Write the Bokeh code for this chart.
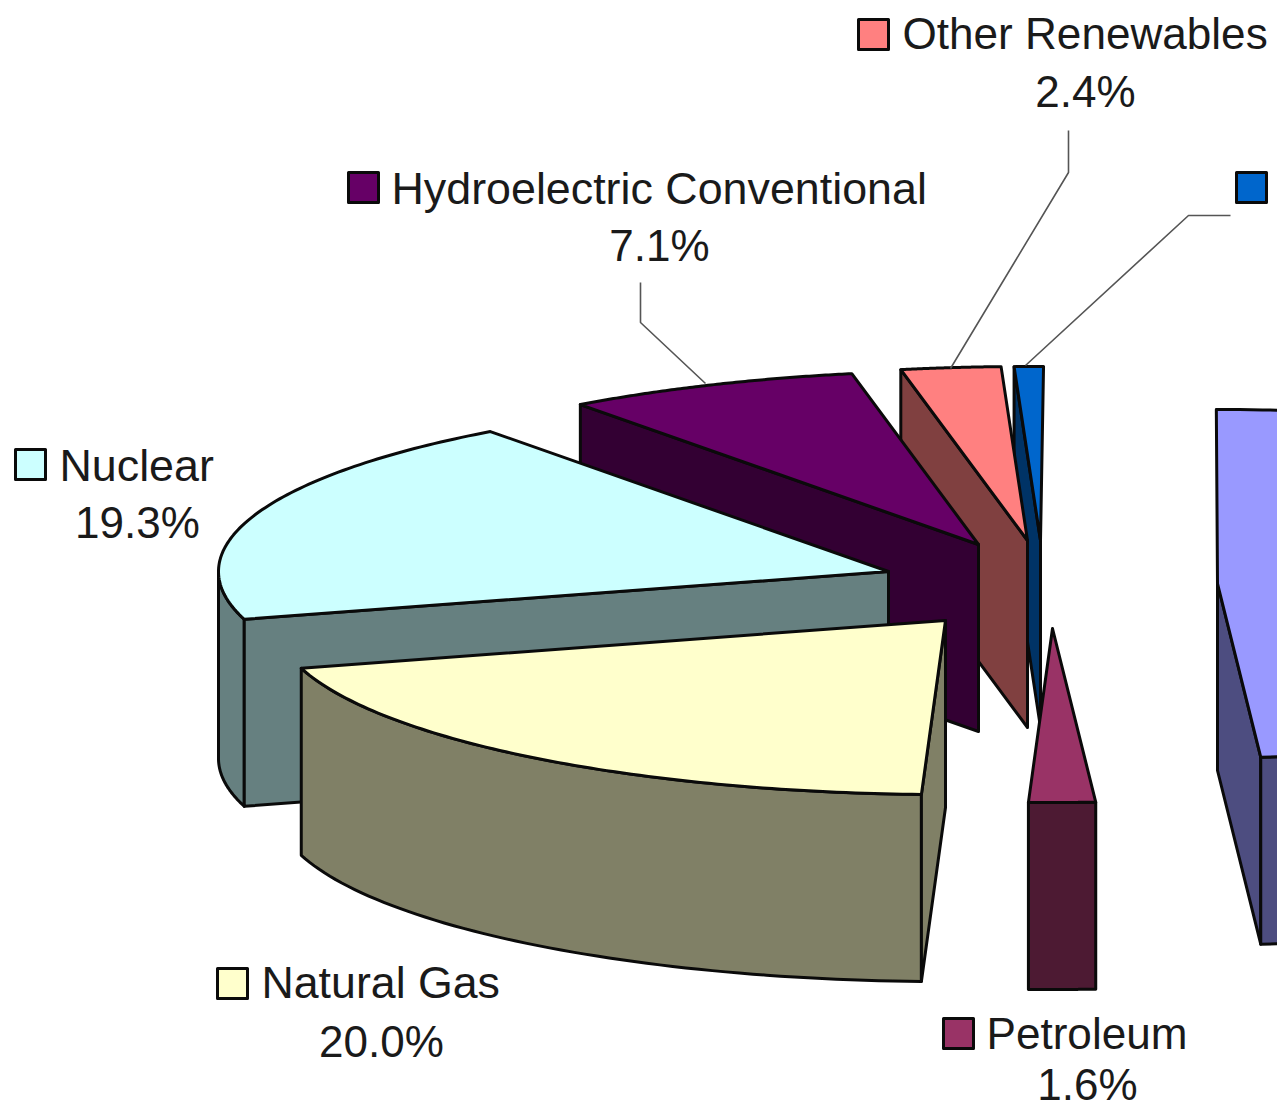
import numpy as np
from bokeh.plotting import figure
from bokeh.models import Range1d
from bokeh.core.properties import value
from bokeh.embed import file_html
from bokeh.resources import INLINE

# Data (percent of total), clockwise from the front of the pie
categories = ["Petroleum", "Natural Gas", "Nuclear", "Hydroelectric Conventional", "Other Renewables", "Other", "Coal"]
shares = [1.6, 20.0, 19.3, 7.1, 2.4, 0.7, 49.0]
top_colors = ["#993366", "#FFFFCC", "#CCFFFF", "#660066", "#FF8080", "#0066CC", "#9999FF"]
side_colors = ["#4D1A33", "#808066", "#668080", "#330033", "#804040", "#003366", "#4D4D80"]

# Exploded slices: the tip of each slice on the page (layout, not data)
tips = {"Petroleum": (1052, 628), "Natural Gas": (945, 620), "Nuclear": (888, 571),
        "Hydroelectric Conventional": (978, 544), "Other Renewables": (1027, 540),
        "Other": (1040, 540), "Coal": (1217, 583)}
RX, RY, DEPTH = 670, 174, 187
START = -3.7  # degrees from the front of the pie where Petroleum begins
OUT = "#0a0a0a"
LW = 3

W, H = 1277, 1109
p = figure(width=W, height=H, output_backend="svg", toolbar_location=None,
           x_range=Range1d(0, W), y_range=Range1d(H, 0), min_border=0)
p.axis.visible = False
p.grid.visible = False
p.outline_line_color = None
p.background_fill_color = "white"
p.border_fill_color = "white"

spans = {}
a = START
for c, s in zip(categories[:-1], shares[:-1]):
    spans[c] = (a, a + s * 3.6)
    a += s * 3.6
spans["Coal"] = (START, START - shares[-1] * 3.6)


def rim(c, t):
    ax, ay = tips[c]
    t = np.radians(t)
    return ax - RX * np.sin(t), ay + RY * np.cos(t)


def face(xs, ys, color):
    p.patch(list(xs), list(ys), fill_color=color, line_color=OUT, line_width=LW, line_join="round")


def radial_side(c, t, color):
    ax, ay = tips[c]
    x, y = rim(c, t)
    face([x, ax, ax, x], [y, ay, ay + DEPTH, y + DEPTH], color)


def outer_side(c, t0, t1, color):
    ts = np.linspace(t0, t1, 60)
    x, y = rim(c, ts)
    face(np.r_[x, x[::-1]], np.r_[y, (y + DEPTH)[::-1]], color)


def top(c, color):
    t0, t1 = spans[c]
    x, y = rim(c, np.linspace(t0, t1, 90))
    ax, ay = tips[c]
    face(np.r_[ax, x], np.r_[ay, y], color)


top_of = dict(zip(categories, top_colors))
side_of = dict(zip(categories, side_colors))

# Painter's order, back to front
c = "Coal"
radial_side(c, START, side_of[c])
outer_side(c, START, -90, side_of[c])
top(c, top_of[c])

for c in ["Other", "Other Renewables", "Hydroelectric Conventional"]:
    radial_side(c, spans[c][0], side_of[c])
    top(c, top_of[c])

c = "Nuclear"
outer_side(c, spans[c][0], 90, side_of[c])
radial_side(c, spans[c][0], side_of[c])
top(c, top_of[c])

c = "Natural Gas"
outer_side(c, spans[c][0], spans[c][1], side_of[c])
radial_side(c, spans[c][0], side_of[c])
top(c, top_of[c])

c = "Petroleum"
outer_side(c, spans[c][0], spans[c][1], side_of[c])
top(c, top_of[c])

# Leader lines
for lx, ly in [([640, 640, 705], [282, 322, 383]),
               ([1068, 1068, 950], [130, 172, 368]),
               ([1230, 1188, 1025], [215, 215, 365])]:
    p.line(lx, ly, line_color="#555555", line_width=1.6)

# Data labels: swatch, name, value, name size
labels = {"Other Renewables": (858, 19, 902, 33, 1085, 91, 44.1),
          "Hydroelectric Conventional": (348, 172, 391, 187, 659, 245, 44.8),
          "Nuclear": (15, 449, 59, 464, 137, 522, 44.8),
          "Natural Gas": (217, 968, 261, 982, 381, 1041, 44.7),
          "Petroleum": (943, 1018, 986, 1033, 1087, 1084, 44.1)}
share_of = dict(zip(categories, shares))
FONT = value("Liberation Sans")
for c, (sx, sy, nx, ny, vx, vy, fs) in labels.items():
    face([sx, sx + 30, sx + 30, sx], [sy, sy, sy + 30, sy + 30], top_of[c])
    p.text([nx], [ny], text=[c], text_font=FONT, text_font_size=f"{fs}px", text_color="#1a1a1a",
           text_align="left", text_baseline="middle")
    p.text([vx], [vy], text=[f"{share_of[c]:.1f}%"], text_font=FONT, text_font_size="44px",
           text_color="#1a1a1a", text_align="center", text_baseline="middle")
face([1236, 1266, 1266, 1236], [172, 172, 202, 202], top_of["Other"])

open("out.html", "w").write(file_html(p, INLINE))
